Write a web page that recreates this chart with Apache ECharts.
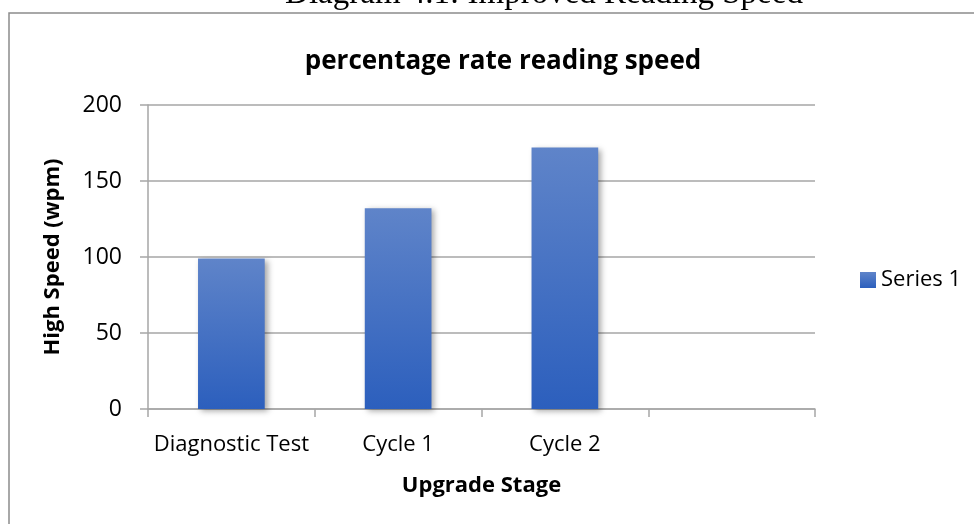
<!DOCTYPE html>
<html><head><meta charset="utf-8">
<script src="https://cdn.jsdelivr.net/npm/echarts@6/dist/echarts.min.js"></script>
<style>html,body{margin:0;padding:0;background:#fff}#c{width:974px;height:524px}</style>
</head><body><div id="c"></div>
<script>
const categories = ['Diagnostic Test', 'Cycle 1', 'Cycle 2', ''];
const series1 = [99, 132, 172, null];
const yTicks = [0, 50, 100, 150, 200];

const FONT = 'Open Sans';
const chart = echarts.init(document.getElementById('c'));
chart.setOption({
  animation: false,
  backgroundColor: '#fff',
  graphic: [
    { type: 'rect', shape: { x: 9, y: 13, width: 1000, height: 600 }, style: { fill: 'none', stroke: '#8c8c8c', lineWidth: 1.5 } },
    { type: 'text', x: 544, y: 11, style: { text: 'Diagram 4.1: Improved Reading Speed', font: '33px "Liberation Serif"', fill: '#000', align: 'center', verticalAlign: 'bottom' } }
  ],
  title: {
    text: 'percentage rate reading speed', left: 498, top: 44, textAlign: 'center',
    textStyle: { fontFamily: FONT, fontWeight: 'bold', fontSize: 26, color: '#000' }
  },
  legend: {
    data: ['Series 1'], left: 855, top: 264, itemWidth: 16, itemHeight: 16, itemGap: 6,
    icon: 'rect', textStyle: { fontFamily: FONT, fontSize: 22, color: '#000' }
  },
  grid: { left: 148, right: 159, top: 105, bottom: 115 },
  xAxis: {
    type: 'category', data: categories,
    name: 'Upgrade Stage', nameLocation: 'middle', nameGap: 66,
    nameTextStyle: { fontFamily: FONT, fontWeight: 'bold', fontSize: 22, color: '#000' },
    axisLine: { lineStyle: { color: '#a6a6a6', width: 1.5 } },
    axisTick: { show: true, length: 8, lineStyle: { color: '#a6a6a6', width: 1.5 } },
    axisLabel: { fontFamily: FONT, fontSize: 22, color: '#000', margin: 25, interval: 0 }
  },
  yAxis: {
    type: 'value', min: 0, max: 200, interval: 50,
    name: 'High Speed (wpm)', nameLocation: 'middle', nameGap: 84, nameRotate: 90,
    nameTextStyle: { fontFamily: FONT, fontWeight: 'bold', fontSize: 22, color: '#000' },
    axisLine: { show: true, lineStyle: { color: '#a6a6a6', width: 1.5 } },
    axisTick: { show: true, length: 8, lineStyle: { color: '#a6a6a6', width: 1.5 } },
    splitLine: { lineStyle: { color: '#a6a6a6', width: 1.5 } },
    axisLabel: { fontFamily: FONT, fontSize: 23, color: '#000', margin: 26,
      formatter: v => yTicks.includes(v) ? String(v) : '' }
  },
  series: [{
    name: 'Series 1', type: 'bar', data: series1, barWidth: '40%',
    itemStyle: {
      color: new echarts.graphic.LinearGradient(0, 0, 0, 1, [
        { offset: 0, color: '#5f84c9' }, { offset: 1, color: '#2c5fbd' }
      ]),
      shadowColor: 'rgba(0,0,0,0.35)', shadowBlur: 6, shadowOffsetX: 3, shadowOffsetY: 2
    }
  }]
});
</script></body></html>
